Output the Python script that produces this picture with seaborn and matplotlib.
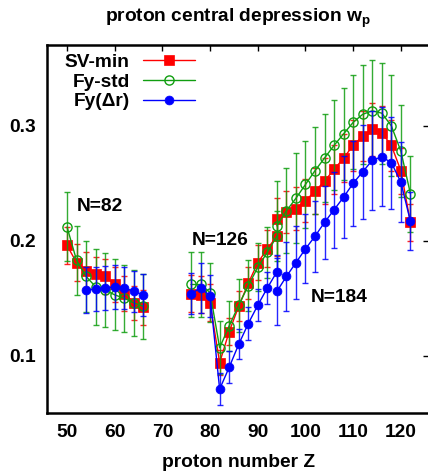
import numpy as np
import pandas as pd
import matplotlib
matplotlib.use("Agg")
import matplotlib.pyplot as plt
import seaborn as sns

# ---------------- data ----------------
models = ["SV-min", "Fy-std", "Fy(\u0394r)"]

# N=82 isotone chain
z_n82 = [50, 52, 54, 56, 58, 60, 62, 64, 66]
z_n82_blue = [54, 56, 58, 60, 62, 64, 66]
sv_n82 = [0.196, 0.181, 0.174, 0.171, 0.169, 0.162, 0.154, 0.146, 0.142]
fs_n82 = [0.212, 0.183, 0.169, 0.160, 0.157, 0.153, 0.150, 0.146, 0.143]
fd_n82 = [0.157, 0.158, 0.159, 0.160, 0.159, 0.156, 0.153]
sv_n82_err = [0.016, 0.016, 0.016, 0.015, 0.015, 0.015, 0.015, 0.015, 0.015]
fs_n82_err = [0.030, 0.030, 0.031, 0.033, 0.032, 0.031, 0.029, 0.029, 0.028]
fd_n82_err = [0.020, 0.019, 0.019, 0.019, 0.018, 0.018, 0.018]

# N=126 isotone chain
z_n126 = [76, 78, 80, 82, 84, 86, 88, 90, 92, 94]
sv_n126 = [0.154, 0.153, 0.146, 0.094, 0.121, 0.143, 0.163, 0.181, 0.193, 0.204]
fs_n126 = [0.162, 0.162, 0.155, 0.107, 0.126, 0.144, 0.161, 0.177, 0.190, 0.204]
fd_n126 = [0.154, 0.159, 0.152, 0.071, 0.090, 0.110, 0.128, 0.144, 0.159, 0.173]
sv_n126_err = [0.016, 0.016, 0.016, 0.011, 0.012, 0.013, 0.014, 0.015, 0.016, 0.017]
fs_n126_err = [0.028, 0.028, 0.026, 0.023, 0.022, 0.023, 0.022, 0.021, 0.022, 0.022]
fd_n126_err = [0.018, 0.022, 0.018, 0.014, 0.014, 0.013, 0.014, 0.014, 0.014, 0.015]

# N=184 isotone chain
z_n184 = [94, 96, 98, 100, 102, 104, 106, 108, 110, 112, 114, 116, 118, 120, 122]
sv_n184 = [0.219, 0.225, 0.228, 0.235, 0.243, 0.252, 0.262, 0.272, 0.283, 0.291,
           0.297, 0.294, 0.283, 0.261, 0.216]
fs_n184 = [0.213, 0.226, 0.237, 0.249, 0.261, 0.272, 0.283, 0.293, 0.303, 0.310,
           0.313, 0.311, 0.300, 0.278, 0.241]
fd_n184 = [0.156, 0.169, 0.181, 0.193, 0.204, 0.216, 0.227, 0.238, 0.250, 0.260,
           0.270, 0.273, 0.268, 0.251, 0.217]
sv_n184_err = [0.018, 0.018, 0.019, 0.019, 0.020, 0.020, 0.021, 0.021, 0.022, 0.022,
               0.023, 0.023, 0.022, 0.020, 0.016]
fs_n184_err = [0.039, 0.037, 0.039, 0.038, 0.038, 0.038, 0.039, 0.040, 0.041, 0.043,
               0.044, 0.044, 0.044, 0.040, 0.033]
fd_n184_err = [0.029, 0.030, 0.032, 0.030, 0.031, 0.032, 0.033, 0.036, 0.037, 0.041,
               0.043, 0.043, 0.040, 0.035, 0.025]

chain_labels = ["N=82", "N=126", "N=184"]
chain_label_pos_z = [56.9, 82.1, 107.0]
chain_label_pos_w = [0.230, 0.200, 0.151]

# ---------------- table ----------------
rows = []
def add(model, chain, zs, ws, es):
    for z, w, e in zip(zs, ws, es):
        rows.append(dict(model=model, chain=chain, Z=z, w=w, err=e))

add(models[0], "N=82", z_n82, sv_n82, sv_n82_err)
add(models[1], "N=82", z_n82, fs_n82, fs_n82_err)
add(models[2], "N=82", z_n82_blue, fd_n82, fd_n82_err)
add(models[0], "N=126", z_n126, sv_n126, sv_n126_err)
add(models[1], "N=126", z_n126, fs_n126, fs_n126_err)
add(models[2], "N=126", z_n126, fd_n126, fd_n126_err)
add(models[0], "N=184", z_n184, sv_n184, sv_n184_err)
add(models[1], "N=184", z_n184, fs_n184, fs_n184_err)
add(models[2], "N=184", z_n184, fd_n184, fd_n184_err)
df = pd.DataFrame(rows)

# ---------------- style ----------------
sns.set_theme(style="white")
plt.rcParams["font.family"] = ["Liberation Sans", "DejaVu Sans"]
plt.rcParams["font.weight"] = "bold"
plt.rcParams["text.color"] = "black"
plt.rcParams["axes.labelcolor"] = "black"
plt.rcParams["xtick.color"] = "black"
plt.rcParams["ytick.color"] = "black"
plt.rcParams["mathtext.fontset"] = "custom"
plt.rcParams["mathtext.rm"] = "Liberation Sans:bold"
plt.rcParams["mathtext.bf"] = "Liberation Sans:bold"
plt.rcParams["mathtext.it"] = "Liberation Sans:bold"

FS = 13.8
colors = {models[0]: "#ff0000", models[1]: "#109e10", models[2]: "#0000ff"}
style = {
    models[0]: dict(marker="s", markersize=6.6, mfc="#ff0000", mec="#ff0000", mew=0.5),
    models[1]: dict(marker="o", markersize=6.6, mfc="none", mec="#109e10", mew=1.0),
    models[2]: dict(marker="o", markersize=6.4, mfc="#0000ff", mec="#0000ff", mew=0.5),
}

W, H = 428, 473
fig = plt.figure(figsize=(W / 100, H / 100), dpi=100)
ax = fig.add_axes([47 / W, 1 - 413.3 / H, (429 - 47) / W, (413.3 - 45.3) / H])

for zi, model in enumerate(models):
    c = colors[model]
    sub_m = df[df.model == model]
    ax.errorbar(sub_m.Z, sub_m.w, yerr=sub_m.err, fmt="none", ecolor=c,
                elinewidth=1.0, capsize=2.2, capthick=1.0, alpha=0.85, zorder=2 + zi)
    for ci, chain in enumerate(chain_labels):
        sub = sub_m[sub_m.chain == chain]
        sns.lineplot(data=sub, x="Z", y="w", ax=ax, color=c, lw=1.0,
                     estimator=None, sort=False, errorbar=None,
                     label=model if ci == 0 else None, zorder=3 + zi,
                     **style[model])

for t, zx, wy in zip(chain_labels, chain_label_pos_z, chain_label_pos_w):
    ax.text(zx, wy, t, ha="center", va="center", fontsize=FS, fontweight="bold",
            color="black")

ax.set_xlim(45.8, 125.9)
ax.set_ylim(0.05, 0.37)
ax.set_xticks([50, 60, 70, 80, 90, 100, 110, 120])
ax.set_yticks([0.1, 0.2, 0.3])
ax.set_yticklabels(["0.1", "0.2", "0.3"])
ax.tick_params(direction="in", length=4, width=1, top=True, right=True,
               labelsize=FS, pad=8, colors="black")
for lab in ax.get_xticklabels() + ax.get_yticklabels():
    lab.set_fontweight("bold")
for s in ax.spines.values():
    s.set_visible(True)
    s.set_linewidth(1.8)
    s.set_color("black")

ax.set_xlabel("proton number Z", fontsize=FS, fontweight="bold", labelpad=9)
ax.set_ylabel("")
ax.set_title(r"proton central depression w$_\mathrm{p}$", fontsize=FS,
             fontweight="bold", pad=17, color="black")

leg = ax.legend(loc="upper right", bbox_to_anchor=(0.387, 0.978), frameon=False,
                markerfirst=False, handlelength=2.7, handletextpad=0.7,
                labelspacing=0.12, borderpad=0, borderaxespad=0,
                prop={"weight": "bold", "size": FS})
for txt in leg.get_texts():
    txt.set_color("black")

fig.savefig("out.png", dpi=100)
